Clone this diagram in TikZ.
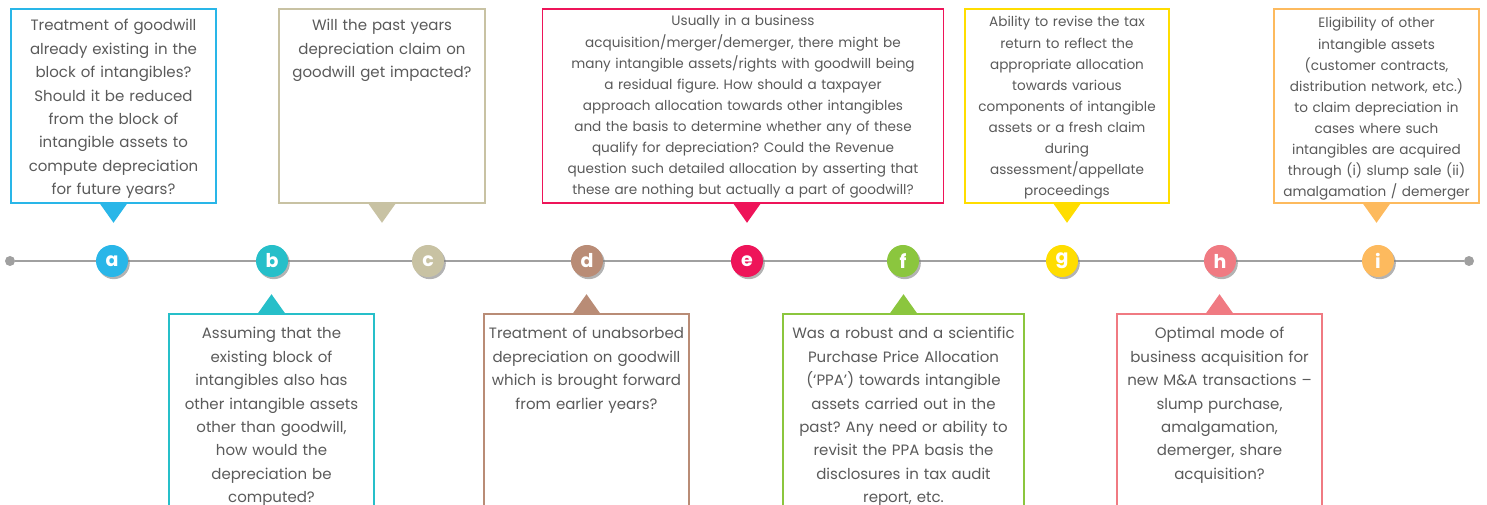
\documentclass[tikz,border=0pt]{standalone}
\usepackage{fontspec}
\setmainfont{Poppins}
\frenchspacing
\usetikzlibrary{positioning,shadows}
\definecolor{qcyan}{HTML}{29B6E8}
\definecolor{qteal}{HTML}{26BFC9}
\definecolor{qkhaki}{HTML}{C8C2A3}
\definecolor{qbrown}{HTML}{B98C76}
\definecolor{qcrimson}{HTML}{EE1459}
\definecolor{qgreen}{HTML}{8BC63E}
\definecolor{qyellow}{HTML}{FFDD00}
\definecolor{qsalmon}{HTML}{F07A82}
\definecolor{qorange}{HTML}{FDBA5E}
\definecolor{linegray}{HTML}{A0A0A0}
\definecolor{textgray}{HTML}{5A5A5A}
\newcommand\qfont{\fontsize{15}{23.4}\selectfont}
\newcommand\qsmall{\fontsize{13.6}{21.1}\selectfont}
\tikzset{
  stage/.style={circle,fill=#1,minimum size=32pt,inner sep=0pt,text=white,
    font=\fontsize{19}{19}\selectfont\bfseries,
    drop shadow={shadow xshift=1.8pt,shadow yshift=-2.2pt,opacity=0.6}},
  enddot/.style={circle,fill=linegray,minimum size=10pt,inner sep=0pt},
  timeline/.style={draw=linegray,line width=2pt},
  topq/.style={rectangle,draw=#1,line width=1.6pt,fill=white,text=textgray,
    align=center,inner xsep=3pt,inner ysep=0pt,text width=199pt,
    text height=22pt,text depth=172pt,font=\qfont},
  botq/.style={rectangle,draw=#1,line width=1.6pt,fill=white,text=textgray,
    align=center,inner xsep=3pt,inner ysep=0pt,text width=199pt,
    text height=25pt,text depth=200pt,font=\qfont},
}

\begin{document}
\begin{tikzpicture}[x=1pt,y=1pt]
  \useasboundingbox (0,0) rectangle (1487,505);
  % timeline and its stages
  \node[enddot] (start) at (10,244) {};
  \node[enddot] (end) at (1469,244) {};
  \draw[timeline] (start) -- (end);
  \node[stage=qcyan] (sa) at (112,244) {a};
  \node[stage=qteal] (sb) at (272,244) {b};
  \node[stage=qkhaki] (sc) at (428,244) {c};
  \node[stage=qbrown] (sd) at (587,244) {d};
  \node[stage=qcrimson] (se) at (747,244) {e};
  \node[stage=qgreen] (sf) at (903,244) {f};
  \node[stage=qyellow] (sg) at (1062,244) {g};
  \node[stage=qsalmon] (sh) at (1220,244) {h};
  \node[stage=qorange] (si) at (1378,244) {i};

  % questions above the line
  \node[topq=qcyan,above=41pt of sa,xshift=1.5pt] (qa) {
    Treatment of goodwill\\already existing in the\\block of intangibles?\\
    Should it be reduced\\from the block of\\intangible assets to\\
    compute depreciation\\for future years?};
  \node[topq=qkhaki,above=41pt of sc,xshift=-46pt,text width=200pt] (qc) {
    Will the past years\\depreciation claim on\\goodwill get impacted?};
  \node[topq=qcrimson,above=41pt of se,xshift=-4pt,text width=395pt,
    text height=17pt,text depth=177pt,font=\qsmall] (qe) {
    Usually in a business\\acquisition/merger/demerger, there might be\\
    many intangible assets/rights with goodwill being\\a residual figure. How should a taxpayer\\
    approach allocation towards other intangibles\\and the basis to determine whether any of these\\
    qualify for depreciation? Could the Revenue\\question such detailed allocation by asserting that\\
    these are nothing but actually a part of goodwill?};
  \node[topq=qyellow,above=41pt of sg,xshift=5pt,text width=198pt,
    text height=18pt,text depth=176pt,font=\qsmall] (qg) {
    Ability to revise the tax\\return to reflect the\\appropriate allocation\\towards various\\
    components of intangible\\assets or a fresh claim\\during\\assessment/appellate\\proceedings};
  \node[topq=qorange,above=41pt of si,xshift=-1.5pt,
    text height=19pt,text depth=175pt,font=\qsmall] (qi) {
    Eligibility of other\\intangible assets\\(customer contracts,\\distribution network, etc.)\\
    to claim depreciation in\\cases where such\\intangibles are acquired\\
    through (i) slump sale (ii)\\amalgamation / demerger};

  % questions below the line
  \node[botq=qteal,below=36pt of sb,xshift=-0.5pt] (qb) {
    Assuming that the\\existing block of\\intangibles also has\\other intangible assets\\
    other than goodwill,\\how would the\\depreciation be\\computed?};
  \node[botq=qbrown,below=36pt of sd,xshift=-0.5pt] (qd) {
    Treatment of unabsorbed\\depreciation on goodwill\\which is brought forward\\from earlier years?};
  \node[botq=qgreen,below=36pt of sf,xshift=0.5pt,text width=235pt] (qf) {
    Was a robust and a scientific\\Purchase Price Allocation\\(‘PPA’) towards intangible\\
    assets carried out in the\\past? Any need or ability to\\revisit the PPA basis the\\
    disclosures in tax audit\\report, etc.};
  \node[botq=qsalmon,below=36pt of sh,xshift=-0.5pt] (qh) {
    Optimal mode of\\business acquisition for\\new M\&A transactions --\\slump purchase,\\
    amalgamation,\\demerger, share\\acquisition?};

  % pointers from the boxes to the line
  \fill[qcyan] (qa.south) ++(-13.5,0) -- ++(27,0) -- ++(-13.5,-19) -- cycle;
  \fill[qkhaki] (qc.south) ++(-13.5,0) -- ++(27,0) -- ++(-13.5,-19) -- cycle;
  \fill[qcrimson] ([xshift=4pt]qe.south) ++(-13.5,0) -- ++(27,0) -- ++(-13.5,-19) -- cycle;
  \fill[qyellow] (qg.south) ++(-13.5,0) -- ++(27,0) -- ++(-13.5,-19) -- cycle;
  \fill[qorange] (qi.south) ++(-13.5,0) -- ++(27,0) -- ++(-13.5,-19) -- cycle;
  \fill[qteal] (qb.north) ++(-13.5,0) -- ++(27,0) -- ++(-13.5,19) -- cycle;
  \fill[qbrown] (qd.north) ++(-13.5,0) -- ++(27,0) -- ++(-13.5,19) -- cycle;
  \fill[qgreen] (qf.north) ++(-13.5,0) -- ++(27,0) -- ++(-13.5,19) -- cycle;
  \fill[qsalmon] (qh.north) ++(-13.5,0) -- ++(27,0) -- ++(-13.5,19) -- cycle;
\end{tikzpicture}
\end{document}
